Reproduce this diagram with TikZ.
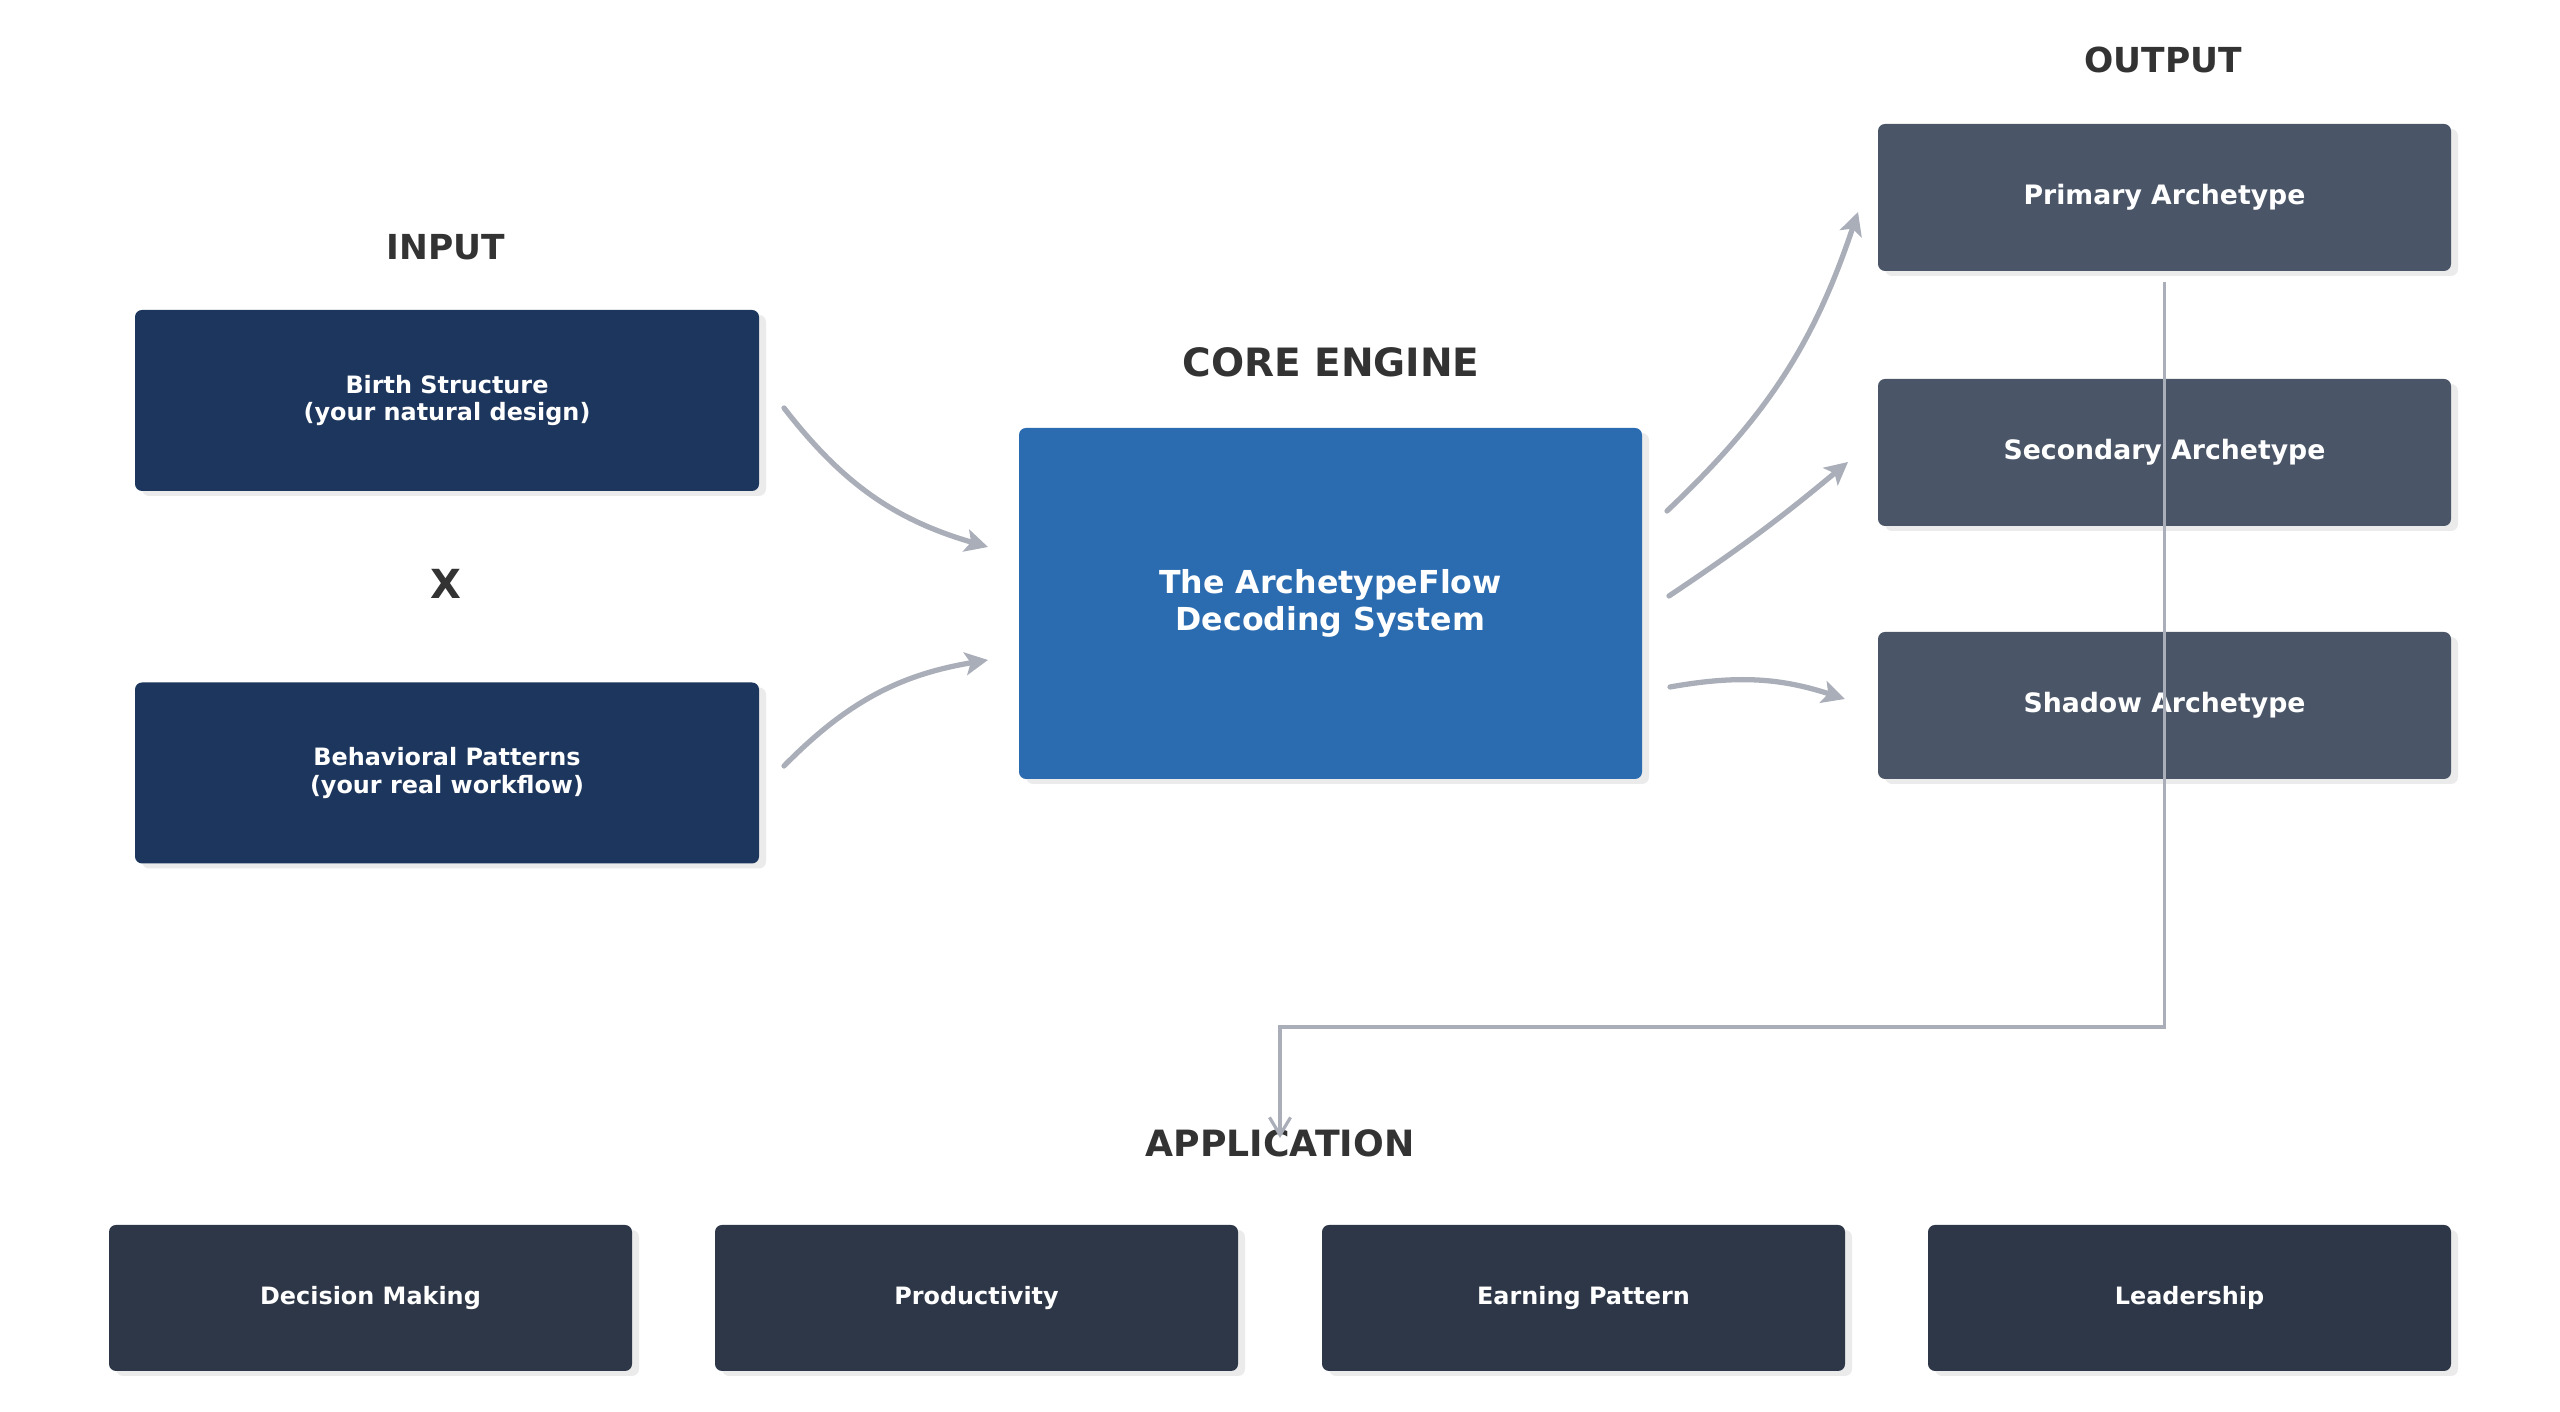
\documentclass[tikz,border=0pt]{standalone}
\usepackage{fontspec}
\setmainfont{DejaVu Sans}
\usetikzlibrary{arrows.meta,shadows,calc}

\definecolor{inputnavy}{HTML}{1D365D}
\definecolor{coreblue}{HTML}{2B6CB0}
\definecolor{outslate}{HTML}{4A5568}
\definecolor{appslate}{HTML}{2D3748}
\definecolor{flowgray}{HTML}{AAAEB9}
\definecolor{headgray}{HTML}{333333}
\definecolor{shadegray}{HTML}{EBEBEB}

\begin{document}
\begin{tikzpicture}[
    % Style for the flat boxes with a soft offset shadow
    box/.style={rectangle, rounded corners=0.07cm, inner sep=0pt, text=white,
        align=center, font=\fontsize{6.8}{7.95}\selectfont\bfseries,
        drop shadow={shadow xshift=0.07cm, shadow yshift=-0.05cm, fill=shadegray, opacity=1}},
    inbox/.style={box, fill=inputnavy, minimum width=6.24cm, minimum height=1.81cm},
    outbox/.style={box, fill=outslate, minimum width=5.73cm, minimum height=1.47cm,
        font=\fontsize{7.6}{9}\selectfont\bfseries},
    appbox/.style={box, fill=appslate, minimum width=5.23cm, minimum height=1.46cm},
    % Style for the column headings
    heading/.style={text=headgray, font=\fontsize{9.8}{11}\selectfont\bfseries},
    bigheading/.style={text=headgray, font=\fontsize{10.6}{12}\selectfont\bfseries},
    % Style for the curved grey arrows
    flow/.style={draw=flowgray, line width=1.5pt, line cap=round,
        -{Stealth[length=6.5pt, width=6.5pt, inset=1.5pt]}}
]
    \useasboundingbox (0,0) rectangle (25.6,14.12);

    % --- 1. Headings ---
    \node[heading] (input label) at (4.46, 11.65) {INPUT};
    \node[bigheading, font=\fontsize{11.1}{13}\selectfont\bfseries] (core label) at (13.31, 10.50) {CORE ENGINE};
    \node[heading] (output label) at (21.63, 13.52) {OUTPUT};
    \node[bigheading, font=\fontsize{10.3}{12}\selectfont\bfseries] (app label) at (12.80, 2.69) {APPLICATION};
    \node[text=headgray, font=\fontsize{11.4}{13}\selectfont\bfseries] (times) at (4.46, 8.28) {X};

    % --- 2. Boxes ---
    \node[inbox] (birth) at (4.47, 10.115) {Birth Structure\\(your natural design)};
    \node[inbox] (behaviour) at (4.47, 6.39) {Behavioral Patterns\\(your real workflow)};

    \node[box, fill=coreblue, minimum width=6.23cm, minimum height=3.51cm,
        font=\fontsize{9.0}{10.6}\selectfont\bfseries] (core) at (13.305, 8.085)
        {The ArchetypeFlow\\Decoding System};

    \node[outbox] (primary) at (21.645, 12.145) {Primary Archetype};
    \node[outbox] (secondary) at (21.645, 9.595) {Secondary Archetype};
    \node[outbox] (shadow) at (21.645, 7.065) {Shadow Archetype};

    \node[appbox] (decision) at (3.705, 1.14) {Decision Making};
    \node[appbox] (productivity) at (9.765, 1.14) {Productivity};
    \node[appbox] (earning) at (15.835, 1.14) {Earning Pattern};
    \node[appbox] (leadership) at (21.895, 1.14) {Leadership};

    % --- 3. Arrow ends ---
    \coordinate (birth out) at (7.84, 10.04);
    \coordinate (behaviour out) at (7.84, 6.46);
    \coordinate (core in top) at (9.88, 8.65);
    \coordinate (core in bottom) at (9.88, 7.52);

    \coordinate (core out 1) at (16.67, 9.01);
    \coordinate (core out 2) at (16.69, 8.16);
    \coordinate (core out 3) at (16.70, 7.25);
    \coordinate (primary in) at (18.58, 12.00);
    \coordinate (secondary in) at (18.48, 9.50);
    \coordinate (shadow in) at (18.45, 7.13);

    % --- 4. Curved arrows ---
    \draw[flow] (birth out) to[bend right=18] (core in top);
    \draw[flow] (behaviour out) to[bend left=18] (core in bottom);

    \draw[flow] (core out 1) to[bend right=14] (primary in);
    \draw[flow] (core out 2) to[bend right=3] (secondary in);
    \draw[flow] (core out 3) to[bend left=14] (shadow in);

    % --- 5. Elbow from output to application ---
    \coordinate (drop start) at ($(primary.south)+(0,-0.10)$);
    \coordinate (turn) at (12.80, 3.85);
    \coordinate (drop end) at (12.80, 2.74);
    \draw[flowgray, line width=0.9pt, -{Straight Barb[length=5pt, width=6pt]}]
        (drop start) -- (drop start |- turn) -- (turn) -- (drop end);

\end{tikzpicture}
\end{document}
